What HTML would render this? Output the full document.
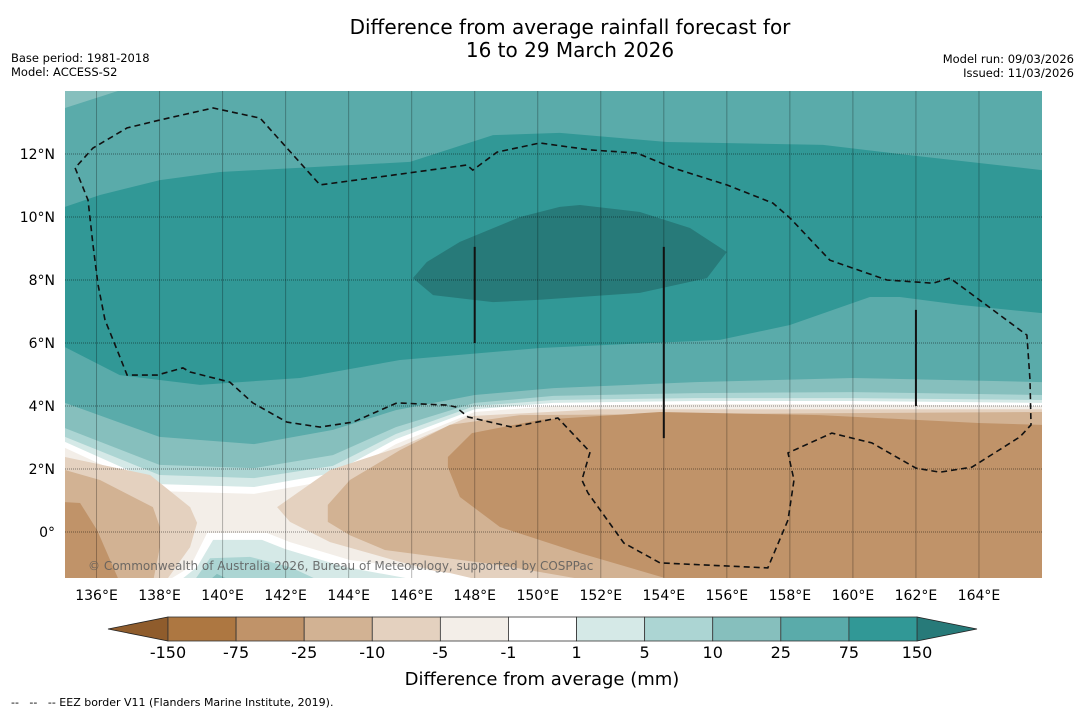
<!DOCTYPE html>
<html><head><meta charset="utf-8">
<style>
html,body{margin:0;padding:0;background:#fff;}
svg{display:block;font-family:"DejaVu Sans","Liberation Sans",sans-serif;}
</style></head>
<body>
<svg id="chart" width="1085" height="713" viewBox="0 0 1085 713" xmlns="http://www.w3.org/2000/svg">
  <text x="570" y="34" font-size="20" text-anchor="middle" fill="#000">Difference from average rainfall forecast for</text>
  <text x="570" y="57" font-size="20" text-anchor="middle" fill="#000">16 to 29 March 2026</text>
  <text x="11" y="62" font-size="11.5" fill="#000">Base period: 1981-2018</text>
  <text x="11" y="76" font-size="11.5" fill="#000">Model: ACCESS-S2</text>
  <text x="1074" y="63" font-size="11.5" text-anchor="end" fill="#000">Model run: 09/03/2026</text>
  <text x="1074" y="77" font-size="11.5" text-anchor="end" fill="#000">Issued: 11/03/2026</text>
  <defs><clipPath id="mapclip"><rect x="65" y="91" width="977" height="487"/></clipPath></defs>
  <g id="map" clip-path="url(#mapclip)"></g>
  <g id="axes"></g>
  <g id="cbar"></g>
  <text x="542" y="685" font-size="18" text-anchor="middle" fill="#000">Difference from average (mm)</text>
  <text x="11" y="706" font-size="11" fill="#000" style="white-space:pre">--   --   -- EEZ border V11 (Flanders Marine Institute, 2019).</text>
</svg>
<script>
// ---- data ----
const lonTicks = [136,138,140,142,144,146,148,150,152,154,156,158,160,162,164];
const latTicks = [0,2,4,6,8,10,12];
const levelLabels = ["-150","-75","-25","-10","-5","-1","1","5","10","25","75","150"];
const binColors = ["#ad7741","#c09369","#d2b293","#e4d1bf","#f3eee8","#ffffff","#d5e9e7","#acd5d3","#86bfbd","#5aabaa","#319896"];
const extLow = "#8f5c2c", extHigh = "#277a79";
// band boundary lines (filled from line down to map bottom)
const bandLons = [135,138,141,143.5,145.5,148,150.5,155,160,166];
const line25 = [4.10,3.02,2.79,3.24,3.87,4.35,4.57,4.76,4.89,4.76];
const line10 = [3.30,2.13,2.03,2.44,3.33,4.10,4.32,4.41,4.44,4.35];
const line5  = [3.02,1.81,1.71,2.10,3.11,4.00,4.19,4.25,4.25,4.19];
const line1  = [2.86,1.52,1.43,1.87,2.95,3.90,4.10,4.16,4.16,4.10];
const lineM1 = [2.67,1.30,1.21,1.65,2.79,3.81,4.00,4.06,4.06,4.00];
// contour regions [lon,lat]
const cornerTeal10 = [[135,14],[136.68,14],[135,13.46]];
const region75 = [[135,10.32],[136.11,10.70],[138.01,11.17],[139.92,11.43],[145.95,11.75],[148.58,12.60],[150.70,12.67],[154.10,12.38],[159.05,12.29],[161.71,11.97],[166,11.49],[166,6.95],[163.40,7.21],[161.49,7.46],[160.54,7.46],[158.0,6.57],[155.78,6.10],[150.07,5.84],[145.63,5.46],[142.46,4.89],[139.28,4.67],[136.74,4.98],[135,5.87]];
const region150 = [[146.04,8.06],[146.48,8.57],[147.53,9.21],[149.44,10.0],[150.70,10.32],[151.34,10.38],[153.24,10.16],[154.83,9.65],[156.0,8.89],[155.37,8.06],[153.24,7.59],[150.07,7.37],[148.58,7.30],[146.68,7.52]];
const regionBeigeR = [[141.73,0.79],[143.41,1.97],[145.63,2.70],[147.85,3.68],[151.97,3.90],[166,3.90],[166,-1.6],[148.17,-1.6],[145.63,-0.95],[143.41,-0.32],[142.14,0.32]];
const regionTanR = [[143.34,0.86],[144.04,1.65],[145.63,2.60],[147.21,3.40],[149.44,3.71],[166,3.81],[166,-1.6],[151.97,-1.6],[148.80,-1.05],[145.15,-0.57],[144.04,-0.10],[143.34,0.32]];
const regionBrownR = [[147.15,2.06],[147.15,2.38],[147.91,3.14],[150.07,3.56],[153.88,3.81],[158.95,3.71],[163.98,3.46],[166,3.40],[166,-1.6],[154.51,-1.6],[151.34,-0.67],[148.80,0.16],[147.53,1.11]];
const regionBeigeL = [[135,2.38],[137.70,1.81],[138.97,0.79],[139.19,0.29],[138.97,-0.48],[138.17,-1.6],[135,-1.6]];
const regionTanL = [[135,1.97],[136.11,1.65],[137.79,0.79],[138.01,0.16],[138.01,-0.48],[137.79,-1.6],[135,-1.6]];
const regionBrownL = [[135,0.95],[135.48,0.92],[136.02,0.06],[136.43,-0.89],[136.74,-1.6],[135,-1.6]];
const blobWhite = [[138.17,-1.6],[138.97,-1.11],[139.51,-0.03],[141.41,-0.03],[142.14,-0.32],[144.04,-0.89],[147.21,-1.30],[148.48,-1.6]];
const blob1 = [[138.58,-1.6],[139.19,-1.11],[139.70,-0.25],[141.25,-0.25],[141.98,-0.54],[143.88,-1.11],[146.58,-1.6]];
const blob5 = [[139.06,-1.6],[139.60,-0.83],[140.87,-0.79],[142.14,-1.11],[143.19,-1.6]];
const blob10 = [[139.51,-1.6],[139.82,-1.33],[140.39,-1.6]];
const eezLine = [[135.32,11.56],[135.73,10.54],[135.89,9.11],[136.05,7.84],[136.27,6.73],[136.59,5.94],[136.97,4.98],[137.92,4.98],[138.74,5.21],[138.97,5.08],[140.23,4.76],[140.96,4.10],[142.04,3.49],[143.09,3.33],[144.14,3.49],[145.53,4.10],[147.12,4.03],[147.40,3.97],[147.79,3.65],[149.18,3.33],[150.64,3.62],[151.66,2.54],[151.40,1.65],[151.59,1.24],[152.73,-0.35],[153.88,-0.98],[157.30,-1.14],[157.94,0.38],[158.13,1.65],[157.94,2.51],[159.33,3.14],[160.60,2.83],[162.0,2.03],[162.76,1.90],[163.78,2.06],[165.30,3.02],[165.65,3.40],[165.62,4.83],[165.52,6.25],[163.08,8.06],[162.54,7.90],[161.08,8.0],[159.27,8.63],[158.0,9.97],[157.46,10.44],[156.0,11.02],[154.29,11.56],[153.15,12.03],[151.66,12.13],[150.07,12.35],[148.71,12.06],[147.94,11.49],[147.75,11.65],[145.41,11.33],[143.09,11.02],[142.04,12.19],[141.19,13.14],[139.70,13.46],[138.01,13.08],[136.97,12.83],[135.89,12.19],[135.32,11.56]];
const boundaryLons = [148,154,162];
const boundaryTop = [9.05,9.05,7.05];
const boundaryBottom = [6.0,2.98,4.0];

// ---- axis functions ----
const LON0=135, LON1=166, LAT0=14, LATB=-1.46;
const X0=65, X1=1042, Y0=91, Y1=578;
function X(lon){ return X0 + (lon-LON0)*(X1-X0)/(LON1-LON0); }
function Y(lat){ return Y0 + (LAT0-lat)*(Y1-Y0)/(LAT0-LATB); }
const NS="http://www.w3.org/2000/svg";
const map=document.getElementById('map'), axes=document.getElementById('axes'), cbar=document.getElementById('cbar');
function mk(tag, parent){ const e=document.createElementNS(NS,tag); parent.appendChild(e); return e; }
function ptsStr(arr){ return arr.map(p=>X(p[0]).toFixed(1)+','+Y(p[1]).toFixed(1)).join(' '); }
function poly(arr, color, name){
  const p=mk('polygon', map);
  p.setAttribute('points', ptsStr(arr));
  p.setAttribute('fill', color);
  
  
  return p;
}
function band(lats, color, name){
  const arr = bandLons.map((l,i)=>[l,lats[i]]);
  arr.push([166,-1.6]); arr.push([135,-1.6]);
  return poly(arr, color, name);
}
// base
const base=mk('rect', map);
base.setAttribute('x',X0); base.setAttribute('y',Y0); base.setAttribute('width',X1-X0); base.setAttribute('height',Y1-Y0);
base.setAttribute('fill', binColors[9]);


poly(cornerTeal10, binColors[8], 'contour-10-to-25-corner');
poly(region75, binColors[10], 'contour-75-to-150');
poly(region150, extHigh, 'contour-above-150');
band(line25, binColors[8], 'contour-10-to-25');
band(line10, binColors[7], 'contour-5-to-10');
band(line5, binColors[6], 'contour-1-to-5');
band(line1, binColors[5], 'contour-minus1-to-1');
band(lineM1, binColors[4], 'contour-minus5-to-minus1');
poly(regionBeigeR, binColors[3], 'contour-minus10-to-minus5-east');
poly(regionTanR, binColors[2], 'contour-minus25-to-minus10-east');
poly(regionBrownR, binColors[1], 'contour-minus75-to-minus25-east');
poly(regionBeigeL, binColors[3], 'contour-minus10-to-minus5-west');
poly(regionTanL, binColors[2], 'contour-minus25-to-minus10-west');
poly(regionBrownL, binColors[1], 'contour-minus75-to-minus25-west');
poly(blobWhite, binColors[5], 'contour-minus1-to-1-south');
poly(blob1, binColors[6], 'contour-1-to-5-south');
poly(blob5, binColors[7], 'contour-5-to-10-south');
poly(blob10, binColors[8], 'contour-10-to-25-south');

// gridlines
lonTicks.forEach(l=>{
  const g=mk('line', map);
  g.setAttribute('x1',X(l)); g.setAttribute('x2',X(l)); g.setAttribute('y1',Y0); g.setAttribute('y2',Y1);
  g.setAttribute('stroke','rgba(0,0,0,0.28)'); g.setAttribute('stroke-width','1');
  
  
});
latTicks.forEach(l=>{
  const g=mk('line', map);
  g.setAttribute('x1',X0); g.setAttribute('x2',X1); g.setAttribute('y1',Y(l)); g.setAttribute('y2',Y(l));
  g.setAttribute('stroke','rgba(0,0,0,0.45)'); g.setAttribute('stroke-width','1'); g.setAttribute('stroke-dasharray','1,1');
  
  
});
// boundaries
boundaryLons.forEach((l,i)=>{
  const g=mk('line', map);
  g.setAttribute('x1',X(l)); g.setAttribute('x2',X(l)); g.setAttribute('y1',Y(boundaryTop[i])); g.setAttribute('y2',Y(boundaryBottom[i]));
  g.setAttribute('stroke','#111'); g.setAttribute('stroke-width','2');
  
  
});
const eez=mk('polyline', map);
eez.setAttribute('points', ptsStr(eezLine));
eez.setAttribute('fill','none'); eez.setAttribute('stroke','#111'); eez.setAttribute('stroke-width','1.6'); eez.setAttribute('stroke-dasharray','6,4');


const cp=mk('text', map);
cp.setAttribute('x','88'); cp.setAttribute('y','570'); cp.setAttribute('font-size','12'); cp.setAttribute('fill','rgba(90,90,90,0.85)');
cp.textContent='© Commonwealth of Australia 2026, Bureau of Meteorology, supported by COSPPac';



// tick labels
lonTicks.forEach(l=>{
  const t=mk('text', axes);
  t.setAttribute('x',X(l)); t.setAttribute('y','600'); t.setAttribute('font-size','14'); t.setAttribute('text-anchor','middle');
  t.textContent=l+'°E';
  
  
});
latTicks.forEach(l=>{
  const t=mk('text', axes);
  t.setAttribute('x','55'); t.setAttribute('y',Y(l)+5); t.setAttribute('font-size','14'); t.setAttribute('text-anchor','end');
  t.textContent= l===0 ? '0°' : l+'°N';
  
  
});

// colorbar
const CB0=168, CB1=917, CBT=617, CBB=641, nb=binColors.length, bw=(CB1-CB0)/nb;
const lt=mk('polygon', cbar);
lt.setAttribute('points', `${CB0},${CBT} ${CB0},${CBB} 108,${(CBT+CBB)/2}`);
lt.setAttribute('fill', extLow); lt.setAttribute('stroke','#222'); lt.setAttribute('stroke-width','0.8');


const rt=mk('polygon', cbar);
rt.setAttribute('points', `${CB1},${CBT} ${CB1},${CBB} 977,${(CBT+CBB)/2}`);
rt.setAttribute('fill', extHigh); rt.setAttribute('stroke','#222'); rt.setAttribute('stroke-width','0.8');


binColors.forEach((c,i)=>{
  const r=mk('rect', cbar);
  r.setAttribute('x', CB0+i*bw); r.setAttribute('y', CBT); r.setAttribute('width', bw); r.setAttribute('height', CBB-CBT);
  r.setAttribute('fill', c); r.setAttribute('stroke','#333'); r.setAttribute('stroke-width','0.8');
  
  
});
levelLabels.forEach((s,i)=>{
  const t=mk('text', cbar);
  t.setAttribute('x', CB0+i*bw); t.setAttribute('y','658'); t.setAttribute('font-size','16'); t.setAttribute('text-anchor','middle');
  t.textContent=s;
  
  
});
</script>
</body></html>
